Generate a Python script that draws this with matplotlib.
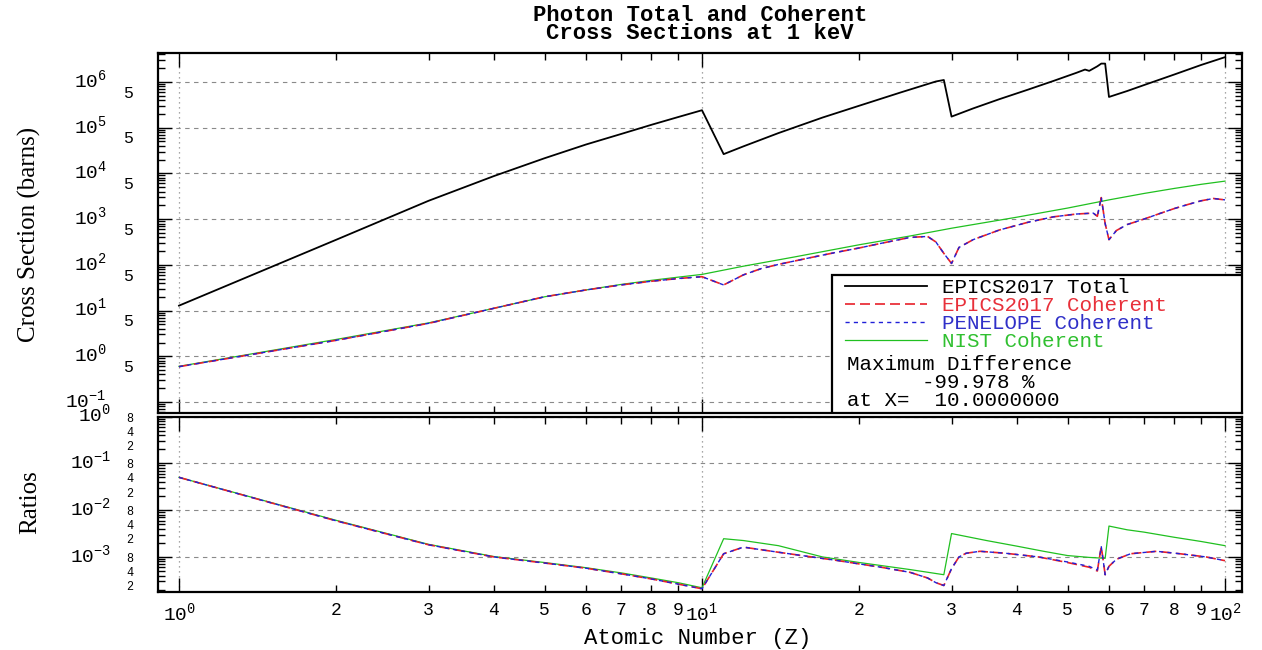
import numpy as np
import matplotlib
matplotlib.use("Agg")
import matplotlib.pyplot as plt
from matplotlib.ticker import FixedLocator, FuncFormatter, LogFormatterMathtext
from matplotlib.patches import Rectangle
from matplotlib.transforms import ScaledTranslation

plt.rcParams['font.family'] = ['Liberation Mono', 'DejaVu Sans']
plt.rcParams['mathtext.fontset'] = 'custom'
plt.rcParams['mathtext.rm'] = 'Liberation Mono'
plt.rcParams['mathtext.it'] = 'Liberation Mono'
plt.rcParams['mathtext.bf'] = 'Liberation Mono:bold'

# --- data (barns, vs atomic number Z) ---
z_total = [1, 2, 3, 4, 5, 6, 7, 8, 9, 10, 11, 12, 14, 17, 20, 24, 28, 29, 30, 33,
           37, 42, 47, 52, 54, 55, 57, 58, 59, 60, 65, 70, 80, 90, 100]
total = [12.8, 355, 2510, 8710, 21400, 42700, 72400, 115000, 170000, 240000,
         26300, 38900, 75900, 166000, 302000, 589000, 1020000, 1100000, 174000, 263000,
         417000, 676000, 1050000, 1580000, 1860000, 1740000, 2190000, 2510000, 2510000, 468000,
         631000, 851000, 1450000, 2340000, 3470000]

z_coh = [1, 2, 3, 4, 5, 6, 7, 8, 9, 10, 11, 12, 13, 14, 16, 18, 20, 22, 25, 27, 28, 29,
         30, 31, 33, 37, 42, 47, 52, 56, 57, 58, 59, 60, 62, 65, 70, 75, 80, 85, 90, 95, 100]
epics_coh = [0.593, 2.24, 5.25, 11.2, 20.0, 28.2, 36.3, 43.7, 50.1, 55.0, 36.3, 60.3, 83.2,
             102, 141, 186, 234, 295, 398, 417, 316, 178, 107, 240, 355, 575, 851, 1120,
             1290, 1350, 1150, 2950, 794, 355, 562, 759, 1000, 1320, 1700, 2090, 2510, 2820, 2630]
penelope_coh = [0.593, 2.24, 5.25, 11.2, 20.0, 28.2, 36.3, 43.7, 50.1, 55.0, 36.3, 60.3, 83.2,
                102, 141, 186, 234, 295, 398, 417, 316, 178, 107, 240, 355, 575, 851, 1120,
                1290, 1350, 1150, 2950, 794, 355, 562, 759, 1000, 1320, 1700, 2090, 2510, 2820, 2630]

z_nist = [1, 2, 3, 4, 5, 6, 7, 8, 9, 10, 12, 15, 20, 25, 30, 40, 50, 60, 70, 80, 90, 100]
nist_coh = [0.603, 2.34, 5.37, 11.2, 20.0, 28.2, 37.2, 45.7, 53.7, 61.7, 93.3, 148, 275,
            427, 631, 1100, 1740, 2630, 3630, 4680, 5750, 6760]

# ratios coherent / total
z_ratio = [1, 2, 3, 4, 5, 6, 7, 8, 9, 10, 11, 12, 14, 16, 18, 20, 22, 25, 27, 28, 29, 30,
           31, 32, 34, 38, 44, 50, 55, 57, 58, 59, 60, 62, 66, 74, 82, 92, 100]
ratio_epics = [0.0501, 0.00589, 0.00182, 0.00100, 0.000741, 0.000575, 0.000437, 0.000339,
               0.000263, 0.000209, 0.00117, 0.00162, 0.00126, 0.00102, 0.000851, 0.000708,
               0.000603, 0.000468, 0.000355, 0.000282, 0.000245, 0.000562, 0.00100, 0.00120,
               0.00132, 0.00120, 0.00100, 0.000759, 0.000603, 0.000501, 0.00166, 0.000417,
               0.000631, 0.000891, 0.00117, 0.00132, 0.00117, 0.00100, 0.000832]
ratio_penelope = [0.0501, 0.00589, 0.00182, 0.00100, 0.000741, 0.000575, 0.000437, 0.000339,
                  0.000263, 0.000209, 0.00117, 0.00162, 0.00126, 0.00102, 0.000851, 0.000708,
                  0.000603, 0.000468, 0.000355, 0.000282, 0.000245, 0.000562, 0.00100, 0.00120,
                  0.00132, 0.00120, 0.00100, 0.000780, 0.000630, 0.000525, 0.00166, 0.000417,
                  0.000631, 0.000891, 0.00117, 0.00132, 0.00117, 0.00100, 0.000832]
z_ratio_nist = [1, 2, 3, 4, 5, 6, 7, 8, 9, 10, 11, 12, 14, 17, 20, 25, 29, 30, 35, 40, 45,
                50, 55, 59, 60, 65, 70, 80, 90, 100]
ratio_nist = [0.0501, 0.00603, 0.00186, 0.00102, 0.000759, 0.000589, 0.000457, 0.000355,
              0.000282, 0.000219, 0.00245, 0.00224, 0.00174, 0.00100, 0.000759, 0.000537,
              0.000417, 0.00316, 0.00224, 0.00170, 0.00132, 0.00107, 0.000977, 0.000933,
              0.00457, 0.00380, 0.00339, 0.00263, 0.00214, 0.00174]

legend_labels = ["EPICS2017 Total", "EPICS2017 Coherent", "PENELOPE Coherent", "NIST Coherent"]
legend_colors = ["black", "#e8303a", "#3030c8", "#30c030"]
max_diff_pct = -99.978
max_diff_at = 10.0

RED, BLUE, GREEN = "#e8202a", "#2020d8", "#20c020"

fig = plt.figure(figsize=(12.62, 6.5), dpi=100)
ax1 = fig.add_axes([0.1252, 0.3646, 0.859, 0.5538])
ax2 = fig.add_axes([0.1252, 0.0892, 0.859, 0.2700])

# top panel
l_green, = ax1.plot(z_nist, nist_coh, color=GREEN, lw=0.9, zorder=2)
l_tot, = ax1.plot(z_total, total, color="black", lw=1.3, zorder=4)
l_red, = ax1.plot(z_coh, epics_coh, color=RED, lw=1.2, ls=(0, (6, 3)), zorder=3)
l_blue, = ax1.plot(z_coh, penelope_coh, color=BLUE, lw=1.0, ls=(0, (3, 3)), zorder=3)

# bottom panel
ax2.plot(z_ratio_nist, ratio_nist, color=GREEN, lw=0.9, zorder=2)
ax2.plot(z_ratio, ratio_epics, color=RED, lw=1.2, ls=(0, (6, 3)), zorder=3)
ax2.plot(z_ratio, ratio_penelope, color=BLUE, lw=1.0, ls=(0, (3, 3)), zorder=3)


def digit_fmt(keep):
    def f(v, pos):
        d = int(round(v / 10 ** np.floor(np.log10(v) + 1e-9)))
        return str(d) if d in keep else ""
    return FuncFormatter(f)


xminor = [k * 10.0 ** e for e in (0, 1) for k in range(2, 10)]
for ax in (ax1, ax2):
    ax.set_xscale("log")
    ax.set_yscale("log")
    ax.set_xlim(0.9117, 107.8)
    ax.xaxis.set_major_locator(FixedLocator([1, 10, 100]))
    ax.xaxis.set_minor_locator(FixedLocator(xminor))
    ax.tick_params(which="both", direction="in", top=True, right=True, width=1.0)
    ax.tick_params(which="major", length=10)
    ax.tick_params(which="minor", length=5)
    ax.grid(True, which="major", axis="y", ls=(0, (4, 4)), color="#8a8a8a", lw=0.8)
    ax.grid(True, which="major", axis="x", ls=(0, (1, 3)), color="#8a8a8a", lw=0.9)
    for s in ax.spines.values():
        s.set_linewidth(1.6)

ax1.set_ylim(0.0575, 4.27e6)
ax1.yaxis.set_major_locator(FixedLocator([10.0 ** e for e in range(-1, 7)]))
ax1.yaxis.set_minor_locator(FixedLocator([k * 10.0 ** e for e in range(-2, 7) for k in range(2, 10)]))
ax1.yaxis.set_major_formatter(LogFormatterMathtext())
ax1.yaxis.set_minor_formatter(digit_fmt({5}))
ax1.tick_params(axis="y", which="major", pad=37, labelsize=14)
ax1.tick_params(axis="y", which="minor", pad=18, labelsize=12)
ax1.tick_params(axis="x", which="both", labelbottom=False)

ax2.set_ylim(1.78e-4, 1.0)
ax2.yaxis.set_major_locator(FixedLocator([1e-3, 1e-2, 1e-1, 1.0]))
ax2.yaxis.set_minor_locator(FixedLocator([k * 10.0 ** e for e in range(-4, 0) for k in range(2, 10)]))
ax2.yaxis.set_major_formatter(LogFormatterMathtext())
ax2.yaxis.set_minor_formatter(digit_fmt({2, 4, 8}))
ax2.tick_params(axis="y", which="major", pad=34, labelsize=14)
ax2.tick_params(axis="y", which="minor", pad=18, labelsize=8.5)
ax2.xaxis.set_major_formatter(LogFormatterMathtext())
ax2.xaxis.set_minor_formatter(digit_fmt(set(range(2, 10))))
ax2.tick_params(axis="x", which="major", pad=7, labelsize=14)
ax2.tick_params(axis="x", which="minor", pad=7, labelsize=13)

# the old plot puts the y labels a few pixels above their ticks
lift = ScaledTranslation(0, 0.04, fig.dpi_scale_trans)
for ax in (ax1, ax2):
    nmaj = len(ax.yaxis.get_majorticklocs())
    nmin = len(ax.yaxis.get_minorticklocs())
    for t in ax.yaxis.get_major_ticks(nmaj) + ax.yaxis.get_minor_ticks(nmin):
        t.label1.set_transform(t.label1.get_transform() + lift)

# labels and title
ax1.set_title("Photon Total and Coherent\nCross Sections at 1 keV", fontsize=16,
              fontweight="bold", linespacing=0.85, pad=10)
ax2.set_xlabel("Atomic Number (Z)", fontsize=16)
ax2.xaxis.set_label_coords(0.498, -0.205)
ax1.set_ylabel("Cross Section (barns)", family="Liberation Serif", fontsize=18)
ax1.yaxis.set_label_coords(-0.108, 0.497)
ax2.set_ylabel("Ratios", family="Liberation Serif", fontsize=18)
ax2.yaxis.set_label_coords(-0.108, 0.513)

# legend box with maximum difference note
ax1.add_patch(Rectangle((0.622, 0.0), 0.378, 0.383, transform=ax1.transAxes,
                        facecolor="white", edgecolor="black", lw=1.6, zorder=6))
leg = ax1.legend([l_tot, l_red, l_blue, l_green], legend_labels, loc="upper left",
                 bbox_to_anchor=(0.634, 0.375), frameon=False, prop={"size": 15},
                 handlelength=3.9, handletextpad=0.75, labelspacing=-0.05,
                 borderpad=0, borderaxespad=0, labelcolor=legend_colors)
leg.set_zorder(7)
note = f"Maximum Difference\n      {max_diff_pct:.3f} %\nat X= {max_diff_at:11.7f}"
ax1.text(0.636, 0.160, note, transform=ax1.transAxes, fontsize=15, linespacing=0.92,
         ha="left", va="top", zorder=7)

fig.savefig("out.png", dpi=100, facecolor="white")
